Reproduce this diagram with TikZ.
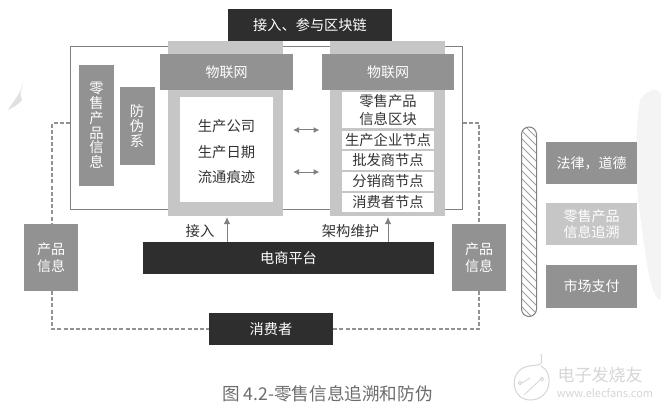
\documentclass[tikz,border=0pt]{standalone}
\usepackage{fontspec}
\setmainfont{Noto Sans CJK SC}
\usetikzlibrary{arrows.meta}
\definecolor{darkbox}{HTML}{2E2E2E}
\definecolor{midbox}{HTML}{929292}
\definecolor{lightbox}{HTML}{C6C6C6}
\definecolor{txt}{HTML}{333333}
\definecolor{wmk}{HTML}{D6D6D6}
\definecolor{mapc}{HTML}{F4F4F4}
\tikzset{
  x=1pt,y=-1pt,
  fsz/.style={font=\fontsize{#1}{17}\selectfont},
  plainbox/.style={anchor=north west,inner sep=0,outer sep=0,align=center},
  darkb/.style={plainbox,fill=darkbox,text=white,fsz=14.2},
  midb/.style={plainbox,fill=midbox,text=white,fsz=14},
  lightb/.style={plainbox,fill=lightbox,text=white,fsz=14},
  cell/.style={plainbox,fill=white,text=txt,fsz=14.3},
  dashline/.style={draw=midbox,line width=1.2pt,dash pattern=on 4pt off 2.2pt},
  arrowline/.style={draw=gray,line width=1pt,-{Latex[length=7pt,width=6.5pt]}},
  bothline/.style={draw=gray,line width=1pt,{Latex[length=6pt,width=6pt]}-{Latex[length=6pt,width=6pt]}},
  lab/.style={text=txt,fsz=14.3,inner sep=0},
}
\begin{document}
\begin{tikzpicture}
\useasboundingbox (0,0) rectangle (661,409);
\fill[white] (0,0) rectangle (661,409);
% faint map
\fill[mapc] (640,100) .. controls (650,85) and (661,90) .. (661,95) -- (661,300) .. controls (650,300) and (645,250) .. (640,215) .. controls (635,180) and (635,130) .. (640,100);
\fill[black!12] (22,100) .. controls (18,92) and (24,85) .. (23,83) .. controls (20,95) and (14,100) .. (8,110) .. controls (12,108) and (18,105) .. (22,100);
% outer frame
\draw[gray,line width=1pt] (70.5,47) rectangle (462.5,209);
% columns
\node[lightb,minimum width=115pt,minimum height=175pt] (colL) at (168,41) {};
\node[lightb,minimum width=115pt,minimum height=175pt] (colR) at (330,41) {};
\node[darkb,minimum width=164pt,minimum height=32pt] (chain) at (228,9) {接入、参与区块链};
\node[midb,minimum width=133pt,minimum height=35.5pt] (iotL) at (160,54.5) {物联网};
\node[midb,minimum width=132pt,minimum height=35.5pt] (iotR) at (322,54.5) {物联网};
\node[midb,minimum width=35pt,minimum height=121pt,font=\fontsize{14.3}{14.8}\selectfont] (retail) at (79,65) {零\\售\\产\\品\\信\\息};
\node[midb,minimum width=35pt,minimum height=78pt,font=\fontsize{14.3}{15}\selectfont] (anti) at (119.5,87) {防\\伪\\系};
% left white panel
\node[cell,minimum width=93pt,minimum height=105pt] (company) at (180,97) {};
\node[text=txt,inner sep=0,align=center,font=\fontsize{14.3}{25.5}\selectfont] (companyText) at (company.center) [yshift=-2.5pt] {生产公司\\生产日期\\流通痕迹};
% right cells
\node[cell,minimum width=92pt,minimum height=35.5pt,font=\fontsize{14.3}{17.5}\selectfont] (cellA) at (342,92.5) {零售产品\\信息区块};
\node[cell,minimum width=92pt,minimum height=18pt] (cellB) at (342,131) {生产企业节点};
\node[cell,minimum width=92pt,minimum height=19pt] (cellC) at (342,151) {批发商节点};
\node[cell,minimum width=92pt,minimum height=19pt] (cellD) at (342,172) {分销商节点};
\node[cell,minimum width=92pt,minimum height=19pt] (cellE) at (342,193) {消费者节点};
% double arrows
\coordinate (a1) at (293,130); \coordinate (a2) at (319.5,130);
\coordinate (b1) at (293,172); \coordinate (b2) at (319.5,172);
\draw[bothline] (a1) -- (a2);
\draw[bothline] (b1) -- (b2);
% platform
\node[darkb,minimum width=291pt,minimum height=32pt] (shop) at (143,242) {电商平台};
\coordinate (up1) at (227,217); \coordinate (up2) at (388,217);
\draw[arrowline] (shop.north west -| up1) -- (up1);
\draw[arrowline] (shop.north west -| up2) -- (up2);
\node[lab,anchor=center] (join) at (200,231) {接入};
\node[lab,anchor=center] (maint) at (350.5,231) {架构维护};
% product boxes
\node[midb,minimum width=54pt,minimum height=67pt] (infoL) at (24,224) {产品\\信息};
\node[midb,minimum width=54pt,minimum height=67pt] (infoR) at (452,224) {产品\\信息};
\node[darkb,minimum width=124pt,minimum height=32pt] (cons) at (209,313) {消费者};
% dashed routes
\coordinate (dl) at (52,123); \coordinate (dr) at (479,123);
\coordinate (fl) at (70,123); \coordinate (fr) at (462.5,123);
\draw[dashline] (fl) -- (dl) -- (infoL.north west -| dl);
\draw[dashline] (infoL.south west -| dl) |- (cons.west);
\draw[dashline] (fr) -- (dr) -- (infoR.north west -| dr);
\draw[dashline] (infoR.south west -| dr) |- (cons.east);
% hatched bar
\begin{scope}
\path[clip,rounded corners=7.5pt] (521.5,127) rectangle (536.5,316.5);
\foreach \yy in {100,108,...,340} \draw[gray!75,line width=.9pt] (515,\yy) -- (545,\yy+30);
\end{scope}
\draw[gray,line width=1pt,rounded corners=7.5pt] (521.5,127) rectangle (536.5,316.5);
% right boxes
\node[midb,minimum width=91pt,minimum height=42pt] (law) at (546,142) {法律，道德};
\node[lightb,minimum width=91pt,minimum height=42pt,font=\fontsize{14}{16.5}\selectfont] (trace) at (546,203) {零售产品\\信息追溯};
\node[midb,minimum width=91pt,minimum height=43pt] (pay) at (546,265) {市场支付};
% caption
\node[text=gray!85!black,fsz=17.6,inner sep=0] (cap) at (327.5,393.5) {图 4.2-零售信息追溯和防伪};
% watermark
\draw[wmk,line width=1pt] (541,354) .. controls (544,368) and (538,364) .. (530,366) .. controls (508,368) and (510,400) .. (530,400) .. controls (552,400) and (554,372) .. (541,366);
\draw[wmk,line width=.8pt] (520,383) circle (1.8) (542,379) circle (1.8) (522,383) -- (530,378) (540,380) -- (524,395);
\node[text=wmk,fsz=17,inner sep=0] (wm1) at (600,375) {电子发烧友};
\node[text=wmk,fsz=11,inner sep=0] (wm2) at (605,393) {www.elecfans.com};
\end{tikzpicture}
\end{document}
